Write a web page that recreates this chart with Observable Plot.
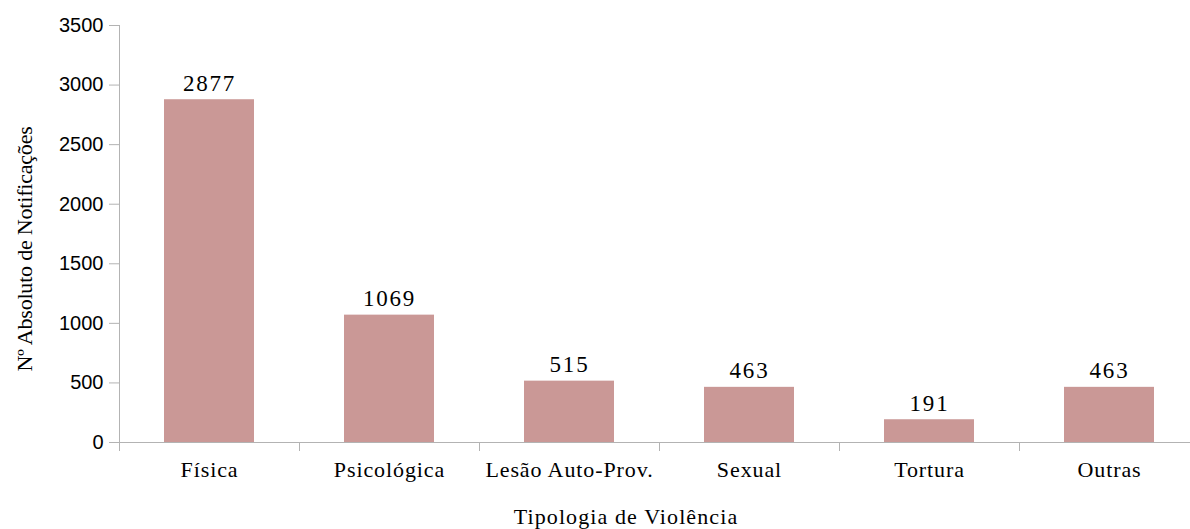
<!DOCTYPE html>
<html>
<head>
<meta charset="utf-8">
<script src="https://cdn.jsdelivr.net/npm/d3@7"></script>
<script src="https://cdn.jsdelivr.net/npm/@observablehq/plot@0.6"></script>
<style>
  html, body { margin: 0; padding: 0; background: #fff; }
  svg { overflow: hidden; }
</style>
</head>
<body>
<div id="chart"></div>
<script>
const categories = ["Física", "Psicológica", "Lesão Auto-Prov.", "Sexual", "Tortura", "Outras"];
const values = [2877, 1069, 515, 463, 191, 463];
const yTicks = [0, 500, 1000, 1500, 2000, 2500, 3000, 3500];
const yTitle = "Nº Absoluto de Notificações";
const xTitle = "Tipologia de Violência";

const data = categories.map((c, i) => ({cat: c, value: values[i]}));
const serif = "'Liberation Serif', 'Times New Roman', serif";
const sans = "'Liberation Sans', Arial, sans-serif";
const gray = "#b3b3b3";

const chart = Plot.plot({
  width: 1190,
  height: 529,
  marginTop: 25,
  marginBottom: 87,
  marginLeft: 119,
  marginRight: 0,
  style: {background: "#fff"},
  x: {domain: categories, range: [119, 1199], paddingInner: 0.5, paddingOuter: 0.25, label: null},
  y: {domain: [0, 3500], label: null},
  marks: [
    Plot.barY(data, {x: "cat", y: "value", fill: "#ca9896"}),
    Plot.frame({anchor: "left", stroke: gray, strokeOpacity: 1}),
    Plot.ruleY([0], {stroke: gray}),
    Plot.axisY(yTicks, {tickSize: 10, tickPadding: 6, tickFormat: d => String(d), stroke: gray, fill: "#000", fontSize: 20, fontFamily: sans, label: null}),
    Plot.axisX(categories, {tickSize: 9, dx: -90, text: null, stroke: gray, label: null}),
    Plot.axisX(categories, {tickSize: 0, tickPadding: 19, fontSize: 22, fontFamily: serif, fill: "#000", label: null}),
    Plot.text(data, {x: "cat", y: "value", text: d => String(d.value), dy: -9, lineAnchor: "bottom", fontSize: 23, fontFamily: serif, fill: "#000"}),
    Plot.text([yTitle], {frameAnchor: "left", textAnchor: "middle", rotate: -90, dx: -95, dy: 15, fontSize: 22, fontFamily: serif, fill: "#000"}),
    Plot.text([xTitle], {frameAnchor: "bottom", dx: -29, dy: 81, lineAnchor: "bottom", fontSize: 22, fontFamily: serif, fill: "#000"})
  ]
});
const s = d3.select(chart);
const textGroups = s.selectAll('g[aria-label="text"]').nodes();
const spacing = ["1.8px", "-0.2px", "1.1px"];
textGroups.forEach((g, i) => d3.select(g).selectAll("text").style("letter-spacing", spacing[i]));
s.selectAll('g[aria-label="x-axis tick label"] text').style("letter-spacing", "0.9px");
document.getElementById("chart").append(chart);
</script>
</body>
</html>
